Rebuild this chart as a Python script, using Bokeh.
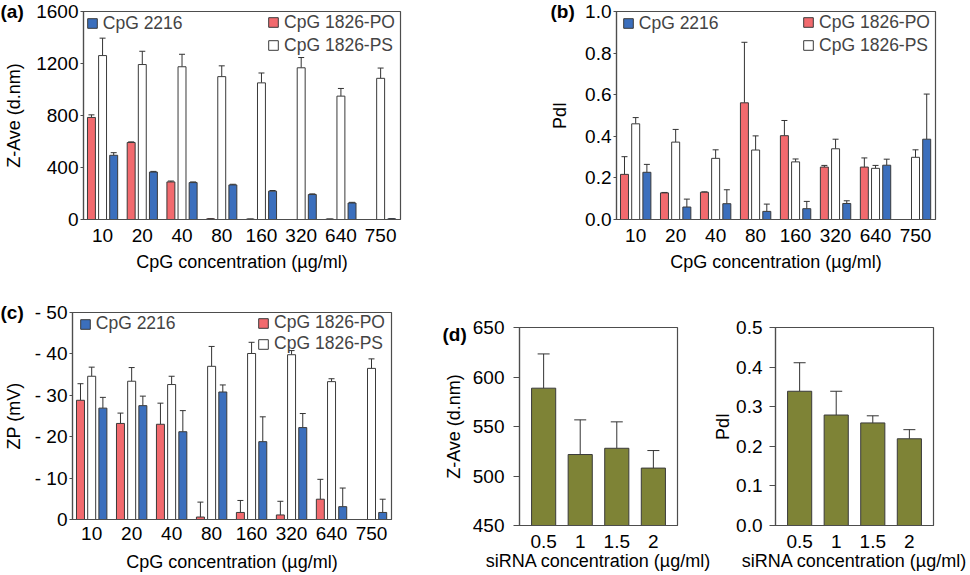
import math
from bokeh.plotting import figure
from bokeh.models import (Range1d, FixedTicker, Whisker, TeeHead, Legend, LegendItem,
                          Title, ColumnDataSource, NumeralTickFormatter, Spacer)
from bokeh.layouts import column, row
from bokeh.embed import file_html
from bokeh.resources import INLINE

nan = float("nan")

# ---------------- data ----------------
cpg_conc = ["10", "20", "40", "80", "160", "320", "640", "750"]
sirna_conc = ["0.5", "1", "1.5", "2"]
series_names = ["CpG 1826-PO", "CpG 1826-PS", "CpG 2216"]

# (a) Z-Ave (d.nm)
zave_po = [785, 592, 289, 5, 3, 0, 3, nan]
zave_po_err = [20, 5, 7, 2, 1, 0, 1, nan]
zave_ps = [1261, 1192, 1175, 1099, 1051, 1167, 949, 1086]
zave_ps_err = [134, 102, 96, 83, 76, 79, 59, 79]
zave_2216 = [494, 365, 284, 266, 218, 192, 127, 5]
zave_2216_err = [20, 5, 5, 5, 5, 5, 5, 2]
zave_ticks = [0, 400, 800, 1200, 1600]

# (b) PdI
pdi_po = [0.217, 0.128, 0.131, 0.561, 0.403, 0.252, 0.252, nan]
pdi_po_err = [0.085, 0.002, 0.002, 0.291, 0.073, 0.008, 0.044, nan]
pdi_ps = [0.460, 0.372, 0.294, 0.334, 0.277, 0.340, 0.246, 0.299]
pdi_ps_err = [0.030, 0.061, 0.041, 0.068, 0.014, 0.046, 0.014, 0.036]
pdi_2216 = [0.227, 0.060, 0.076, 0.039, 0.052, 0.077, 0.261, 0.386]
pdi_2216_err = [0.038, 0.038, 0.067, 0.035, 0.035, 0.013, 0.029, 0.217]
pdi_ticks = [0.0, 0.2, 0.4, 0.6, 0.8, 1.0]

# (c) ZP (mV), magnitude of the negative potential
zp_po = [28.8, 23.2, 23.0, 0.6, 1.7, 1.1, 4.9, nan]
zp_po_err = [4.0, 2.5, 5.1, 3.6, 2.9, 3.3, 4.8, nan]
zp_ps = [34.6, 33.4, 32.6, 37.0, 40.1, 39.8, 33.3, 36.5]
zp_ps_err = [2.2, 3.3, 2.0, 4.8, 2.7, 1.0, 0.7, 2.3]
zp_2216 = [26.9, 27.5, 21.2, 30.8, 18.8, 22.2, 3.1, 1.7]
zp_2216_err = [2.6, 2.3, 5.1, 1.7, 6.0, 3.4, 4.5, 3.2]
zp_ticks = [0, 10, 20, 30, 40, 50]
zp_tick_labels = ["0", "- 10", "- 20", "- 30", "- 40", "- 50"]

# (d) siRNA
si_zave = [588.7, 521.7, 528.0, 508.0]
si_zave_err = [34.6, 35.0, 26.7, 17.7]
si_zave_ticks = [450, 500, 550, 600, 650]
si_pdi = [0.339, 0.279, 0.259, 0.219]
si_pdi_err = [0.072, 0.060, 0.018, 0.023]
si_pdi_ticks = [0.0, 0.1, 0.2, 0.3, 0.4, 0.5]

# ---------------- style ----------------
FONT = "Liberation Sans"
RED = "#F26A6E"
BLUE = "#3B6FBD"
WHITE = "#FFFFFF"
OLIVE = "#7E8336"
EDGE = "#3A3A3A"
FRAME = "#4D4D4D"
ERR = "#333333"


def base_fig(width, height, borders, xr, yr):
    l, r, t, b = borders
    p = figure(width=width, height=height, output_backend="svg", toolbar_location=None,
               x_range=Range1d(*xr), y_range=Range1d(*yr), title=None,
               min_border_left=l, min_border_right=r, min_border_top=t, min_border_bottom=b)
    p.xgrid.visible = False
    p.ygrid.visible = False
    p.outline_line_color = FRAME
    p.outline_line_width = 1.2
    p.outline_line_alpha = 1.0
    for ax in (p.xaxis[0], p.yaxis[0]):
        ax.axis_line_color = FRAME
        ax.axis_line_width = 1.2
        ax.major_tick_line_color = FRAME
        ax.minor_tick_line_color = None
        ax.major_label_text_font = FONT
        ax.major_label_text_font_size = "19px"
        ax.major_label_text_color = "black"
        ax.axis_label_text_font = FONT
        ax.axis_label_text_font_size = "18px"
        ax.axis_label_text_font_style = "normal"
        ax.axis_label_text_color = "black"
    p.xaxis.major_tick_out = 0
    p.xaxis.major_tick_in = 0
    p.yaxis.major_tick_in = 0
    return p


def bars(p, xs, tops, bottom, width, color):
    src = ColumnDataSource(dict(x=xs, top=tops))
    return p.vbar(x="x", top="top", bottom=bottom, width=width, source=src,
                  fill_color=color, line_color=EDGE, line_width=1)


def errbars(p, xs, tops, errs, size):
    keep = [(x, t, t + e) for x, t, e in zip(xs, tops, errs)
            if not (math.isnan(t) or math.isnan(e)) and e > 0]
    src = ColumnDataSource(dict(base=[k[0] for k in keep], lower=[k[1] for k in keep],
                                upper=[k[2] for k in keep]))
    w = Whisker(source=src, base="base", lower="lower", upper="upper", dimension="height",
                line_color=ERR, line_width=1,
                upper_head=TeeHead(size=size, line_color=ERR, line_width=1), lower_head=None)
    p.add_layout(w)


def legend(p, items, vx, vy, spacing):
    lg = Legend(items=items, location=(vx, vy), orientation="vertical", padding=0, margin=0,
                spacing=spacing, glyph_width=12, glyph_height=12, label_height=20,
                label_standoff=5, label_text_font=FONT, label_text_font_size="17.5px",
                background_fill_alpha=0, border_line_alpha=0)
    p.add_layout(lg)


def panel_letter(p, text, dx, standoff, valign="middle"):
    p.add_layout(Title(text=text, align="left", offset=dx, standoff=standoff,
                       vertical_align=valign, text_font=FONT, text_font_size="19px",
                       text_font_style="bold", text_color="black"), "above")


def cpg_panel(width, height, borders, frame_w, frame_h, yr, yticks, po, po_e, ps, ps_e,
              b2216, b2216_e, ylabel, ylab_standoff, xlab_standoff, tick_standoff,
              letter, letter_dx, letter_standoff, leg_left_x, leg_cy, leg_right_gap,
              leg_spacing, overrides=None, formatter=None):
    xr = (-0.48, 7.5)
    p = base_fig(width, height, borders, xr, yr)
    n = len(cpg_conc)
    idx = list(range(n))
    off, bw = 0.28, 0.2
    x_po = [i - off for i in idx]
    x_ps = [i for i in idx]
    x_bl = [i + off for i in idx]
    r_po = bars(p, x_po, po, 0, bw, RED)
    r_ps = bars(p, x_ps, ps, 0, bw, WHITE)
    r_bl = bars(p, x_bl, b2216, 0, bw, BLUE)
    errbars(p, x_po, po, po_e, 6)
    errbars(p, x_ps, ps, ps_e, 6)
    errbars(p, x_bl, b2216, b2216_e, 6)

    p.xaxis.ticker = FixedTicker(ticks=idx)
    p.xaxis.major_label_overrides = {i: c for i, c in enumerate(cpg_conc)}
    p.xaxis.major_label_standoff = tick_standoff
    p.xaxis.axis_label = "CpG concentration (µg/ml)"
    p.xaxis.axis_label_standoff = xlab_standoff

    p.yaxis.ticker = FixedTicker(ticks=yticks)
    if overrides:
        p.yaxis.major_label_overrides = overrides
    if formatter:
        p.yaxis.formatter = formatter
    p.yaxis.major_tick_out = 3
    p.yaxis.major_label_standoff = 2
    p.yaxis.axis_label = ylabel
    p.yaxis.axis_label_standoff = ylab_standoff

    # legends
    vy1 = frame_h - 20 - (leg_cy - 10)
    legend(p, [LegendItem(label=series_names[2], renderers=[r_bl])], leg_left_x - 1.2, vy1, 0)
    lw = 12 + 5 + 110.9
    h2 = 40 + max(leg_spacing, 0)
    vy2 = frame_h - h2 - (leg_cy - 10)
    legend(p, [LegendItem(label=series_names[0], renderers=[r_po]),
               LegendItem(label=series_names[1], renderers=[r_ps])],
           frame_w - leg_right_gap - lw, vy2, leg_spacing)
    panel_letter(p, letter, letter_dx, letter_standoff)
    return p


# Row 1 (height 290)
figA = cpg_panel(480, 290, (83, 80, 11, 71), 317, 208, (0, 1600), zave_ticks,
                 zave_po, zave_po_err, zave_ps, zave_ps_err, zave_2216, zave_2216_err,
                 "Z-Ave (d.nm)", 9, 7, 9, "(a)", -83, -24, 4, 12.5, 5, 2)
figB = cpg_panel(489, 290, (136, 34, 11, 71), 319, 208, (0, 1.0), pdi_ticks,
                 pdi_po, pdi_po_err, pdi_ps, pdi_ps_err, pdi_2216, pdi_2216_err,
                 "PdI", 12, 7, 9, "(b)", -66, -24, 7, 12.5, 5, 2,
                 formatter=NumeralTickFormatter(format="0.0"))

# Row 2 (height 284)
figC = cpg_panel(440, 284, (72, 49, 22, 54), 319, 208, (0, 50), zp_ticks,
                 zp_po, zp_po_err, zp_ps, zp_ps_err, zp_2216, zp_2216_err,
                 "ZP (mV)", 8, 9, 7, "(c)", -72, -30, 8, 13, 6, -2,
                 overrides={t: s for t, s in zip(zp_ticks, zp_tick_labels)})


def sirna_panel(width, borders, yr, yticks, vals, errs, ylabel, tick_standoff, ylab_standoff,
                formatter=None):
    xr = (-0.66, 3.66)
    p = base_fig(width, 269, borders, xr, yr)
    idx = list(range(len(sirna_conc)))
    bars(p, idx, vals, yr[0], 0.66, OLIVE)
    errbars(p, idx, vals, errs, 12)
    p.xaxis.ticker = FixedTicker(ticks=idx)
    p.xaxis.major_label_overrides = {i: c for i, c in enumerate(sirna_conc)}
    p.xaxis.major_label_standoff = 9
    p.xaxis.axis_label = "siRNA concentration (µg/ml)"
    p.xaxis.axis_label_standoff = 0
    p.yaxis.ticker = FixedTicker(ticks=yticks)
    if formatter:
        p.yaxis.formatter = formatter
    p.yaxis.major_tick_out = 6
    p.yaxis.major_label_standoff = tick_standoff
    p.yaxis.axis_label = ylabel
    p.yaxis.axis_label_standoff = ylab_standoff
    return p


figD1 = sirna_panel(270, (78, 33, 22, 49), (450, 650), si_zave_ticks, si_zave, si_zave_err,
                    "Z-Ave (d.nm)", 9, 6)
panel_letter(figD1, "(d)", -77, -34, valign="bottom")
figD2 = sirna_panel(259, (63, 36, 22, 49), (0, 0.5), si_pdi_ticks, si_pdi, si_pdi_err,
                    "PdI", 7, 0, formatter=NumeralTickFormatter(format="0.0"))

d_block = column(Spacer(width=529, height=15), row(figD1, figD2, spacing=0), spacing=0)
layout = column(row(figA, figB, spacing=0), row(figC, d_block, spacing=0), spacing=0)

open("out.html", "w").write(file_html(layout, INLINE, title="CpG / siRNA nanoparticles"))
